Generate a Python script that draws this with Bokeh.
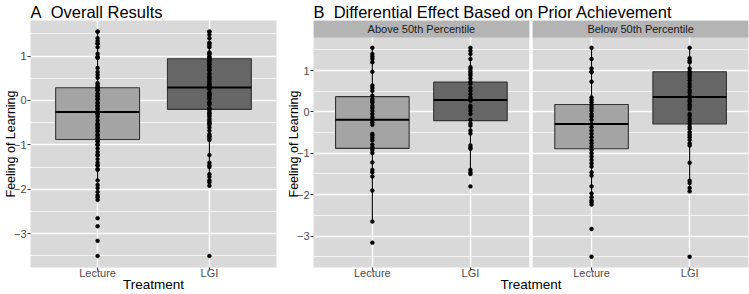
from bokeh.plotting import figure
from bokeh.layouts import row
from bokeh.models import Range1d, FixedTicker
from bokeh.core.properties import value
from bokeh.embed import file_html
from bokeh.resources import INLINE

# ---------------- data ----------------
treatments = ["Lecture", "LGI"]
facets = ["Above 50th Percentile", "Below 50th Percentile"]

above_lecture = [1.55, 1.40, 1.34, 1.28, 1.20, 0.97, 0.64, 0.58, 0.51, 0.39, 0.31, 0.27,
                 0.23, 0.15, 0.10, 0.03, -0.05, -0.13, -0.19, -0.25, -0.31, -0.53, -0.57,
                 -0.63, -0.69, -0.79, -0.86, -0.92, -0.99, -1.22, -1.40, -1.46, -1.56,
                 -1.90, -2.65, -3.16]
above_lgi = [1.55, 1.48, 1.40, 1.28, 1.08, 1.04, 0.98, 0.93, 0.88, 0.81, 0.73, 0.68, 0.58,
             0.51, 0.43, 0.35, 0.31, 0.27, 0.15, 0.10, 0.03, -0.05, -0.19, -0.28, -0.33,
             -0.45, -0.52, -0.81, -0.86, -0.89, -1.40, -1.46, -1.50, -1.80]
below_lecture = [1.55, 1.28, 1.05, 0.98, 0.96, 0.73, 0.35, 0.29, 0.23, 0.15, 0.09, 0.03,
                 -0.05, -0.11, -0.19, -0.29, -0.37, -0.45, -0.53, -0.61, -0.69, -0.76,
                 -0.84, -0.92, -1.00, -1.08, -1.16, -1.24, -1.32, -1.46, -1.54, -1.80,
                 -1.97, -2.06, -2.14, -2.18, -2.24, -2.83, -3.50]
below_lgi = [1.55, 1.30, 1.24, 1.20, 1.05, 0.98, 0.93, 0.88, 0.82, 0.76, 0.68, 0.61, 0.53,
             0.47, 0.39, 0.35, 0.29, 0.25, 0.18, 0.13, 0.07, -0.05, -0.09, -0.17, -0.23,
             -0.29, -0.36, -0.41, -0.49, -0.55, -0.61, -0.68, -0.76, -0.81, -1.23, -1.66,
             -1.72, -1.84, -1.92, -3.50]

# box statistics (Lecture, LGI)
overall_q1 = [-0.88, -0.20]
overall_med = [-0.26, 0.29]
overall_q3 = [0.285, 0.94]
overall_lo = [-2.24, -1.92]
overall_hi = [1.55, 1.55]

above_q1 = [-0.88, -0.21]
above_med = [-0.19, 0.29]
above_q3 = [0.37, 0.72]
above_lo = [-2.65, -1.50]
above_hi = [1.55, 1.55]

below_q1 = [-0.89, -0.29]
below_med = [-0.29, 0.36]
below_q3 = [0.18, 0.97]
below_lo = [-2.24, -1.92]
below_hi = [1.55, 1.55]

y_ticks = [-3, -2, -1, 0, 1]
y_minor = [-3.5, -2.5, -1.5, -0.5, 0.5, 1.5]

title_a = "A\u00a0 Overall Results"
title_b = "B\u00a0 Differential Effect Based on Prior Achievement"
x_title = "Treatment"
y_title = "Feeling of Learning"

# ---------------- style ----------------
FONT = "Liberation Sans"
PANEL = "#D9D9D9"
STRIP = "#B4B4B4"
FILLS = ["#A4A4A4", "#666666"]
HALF = 0.375
Y_LO, Y_HI = -3.76, 1.80


def style(p, ticks, labels):
    p.background_fill_color = PANEL
    p.border_fill_color = "white"
    p.outline_line_color = None
    p.xaxis.ticker = FixedTicker(ticks=ticks)
    p.xaxis.major_label_overrides = {t: l for t, l in zip(ticks, labels)}
    p.yaxis.ticker = FixedTicker(ticks=y_ticks, minor_ticks=y_minor)
    for ax in (p.xaxis, p.yaxis):
        ax.axis_line_color = None
        ax.major_tick_line_color = "#333333"
        ax.major_tick_out = 3
        ax.major_tick_in = 0
        ax.minor_tick_out = 0
        ax.minor_tick_in = 0
        ax.major_label_text_font = FONT
        ax.major_label_text_font_size = "11px"
        ax.major_label_text_color = "#4D4D4D"
        ax.axis_label_text_font = FONT
        ax.axis_label_text_font_style = "normal"
        ax.axis_label_text_color = "black"
    p.xaxis.axis_label = x_title
    p.xaxis.axis_label_text_font_size = "13.5px"
    p.xaxis.major_label_standoff = -4
    p.xaxis.axis_label_standoff = -5
    p.yaxis.axis_label = y_title
    p.yaxis.axis_label_text_font_size = "12.5px"
    p.yaxis.major_label_standoff = 1
    p.yaxis.axis_label_standoff = -7
    p.xgrid.grid_line_color = "white"
    p.xgrid.grid_line_width = 1.4
    p.ygrid.grid_line_color = "white"
    p.ygrid.grid_line_width = 1.4
    p.ygrid.minor_grid_line_color = "white"
    p.ygrid.minor_grid_line_width = 0.7
    p.title.text_font = FONT
    p.title.text_font_size = "16.5px"
    p.title.text_font_style = "normal"
    p.title.text_color = "black"
    p.title.standoff = 0
    p.title.offset = 0


def boxes(p, xs, q1, med, q3, lo, hi, pts):
    p.segment(x0=xs, x1=xs, y0=q3, y1=hi, line_color="black", line_width=1.1)
    p.segment(x0=xs, x1=xs, y0=q1, y1=lo, line_color="black", line_width=1.1)
    p.quad(left=[x - HALF for x in xs], right=[x + HALF for x in xs], bottom=q1, top=q3,
           fill_color=FILLS, line_color="#333333", line_width=1.1)
    p.segment(x0=[x - HALF for x in xs], x1=[x + HALF for x in xs], y0=med, y1=med,
              line_color="black", line_width=2)
    for x, vals in zip(xs, pts):
        p.scatter(x=[x] * len(vals), y=vals, size=3.9, fill_color="black",
                  line_color="black", line_width=0.5)


# ---------------- panel A ----------------
pA = figure(width=283, height=294, x_range=Range1d(0.4, 2.6), y_range=Range1d(Y_LO, Y_HI),
            output_backend="svg", toolbar_location=None, title=title_a,
            min_border_left=29, min_border_right=7, min_border_top=20, min_border_bottom=27)
xa = [1.0, 2.0]
style(pA, xa, treatments)
boxes(pA, xa, overall_q1, overall_med, overall_q3, overall_lo, overall_hi,
      [above_lecture + below_lecture, above_lgi + below_lgi])

# ---------------- panel B ----------------
GAP = 0.0346
off = [0.0, 2.2 + GAP]
strip_top = 2.21
pB = figure(width=466, height=294, x_range=Range1d(0.4, 2.6 + off[1]),
            y_range=Range1d(Y_LO, strip_top),
            output_backend="svg", toolbar_location=None, title=title_b,
            min_border_left=29, min_border_right=1, min_border_top=20, min_border_bottom=27)
xb = [i + 1 + o for o in off for i in range(2)]
style(pB, xb, treatments * 2)

stats = [(above_q1, above_med, above_q3, above_lo, above_hi, [above_lecture, above_lgi]),
         (below_q1, below_med, below_q3, below_lo, below_hi, [below_lecture, below_lgi])]
for o, (q1, med, q3, lo, hi, pts) in zip(off, stats):
    boxes(pB, [1 + o, 2 + o], q1, med, q3, lo, hi, pts)

# white gap between facets
pB.quad(left=[2.6], right=[2.6 + GAP], bottom=[Y_LO], top=[strip_top],
        fill_color="white", line_color=None)
# strips
pB.quad(left=[0.4 + o for o in off], right=[2.6 + o for o in off],
        bottom=[Y_HI] * 2, top=[strip_top] * 2, fill_color=STRIP, line_color=None)
pB.text(x=[1.5 + o for o in off], y=[(Y_HI + strip_top) / 2] * 2, text=facets,
        text_align="center", text_baseline="middle", text_font=value(FONT),
        text_font_size=value("11px"), text_color="#1A1A1A")

layout = row(pA, pB)
open("out.html", "w").write(file_html(layout, INLINE))
